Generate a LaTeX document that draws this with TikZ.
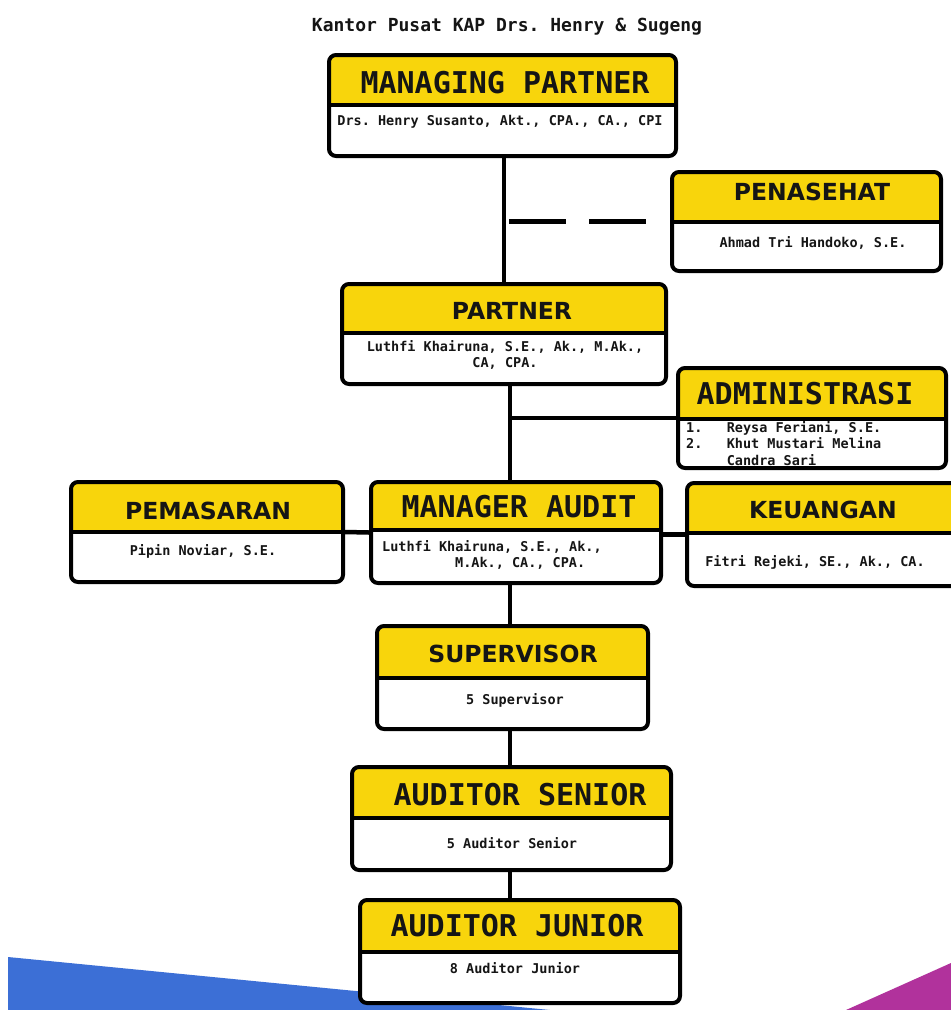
\documentclass[tikz,border=0pt]{standalone}
\usepackage{fontspec}
\newfontfamily\dvs{DejaVu Sans}
\newfontfamily\dvm{DejaVu Sans Mono}
\definecolor{hdr}{HTML}{F8D50C}
\definecolor{ink}{HTML}{151515}
\definecolor{bandblue}{HTML}{3C6FD6}
\definecolor{bandpurple}{HTML}{B1329C}
\frenchspacing
\tikzset{
  orgbox/.style={draw=black, line width=4pt, rounded corners=7pt, fill=white, inner sep=0pt,
    path picture={
      \fill[hdr] (path picture bounding box.north west) rectangle ([yshift=-#1pt]path picture bounding box.north east);
      \draw[line width=4pt] ([yshift=-#1pt]path picture bounding box.north west) -- ([yshift=-#1pt]path picture bounding box.north east);
    }},
  ttlS/.style={font=\dvs\bfseries\fontsize{23.5}{26}\selectfont, inner sep=0pt, text=ink},
  ttlM/.style={font=\dvm\bfseries\fontsize{30}{32}\selectfont, inner sep=0pt, text=ink},
  subt/.style={font=\frenchspacing\dvm\bfseries\fontsize{13.5}{16}\selectfont, inner sep=0pt, align=center, text=ink},
  conn/.style={line width=4.5pt, black},
}
\begin{document}
\begin{tikzpicture}[x=1pt,y=-1pt]
\useasboundingbox (0,0) rectangle (951,1010);
\fill[white] (0,0) rectangle (951,1010);
% bottom decoration bands
\fill[bandblue] (8,957) -- (550,1010) -- (8,1010) -- cycle;
\fill[bandpurple] (951,963) -- (951,1010) -- (846,1010) -- cycle;

% heading
\node[font=\frenchspacing\dvm\bfseries\fontsize{18}{20}\selectfont, text=ink, inner sep=0pt] (head) at (507,27) {Kantor Pusat KAP Drs. Henry \& Sugeng};

% boxes
\node[orgbox=50, minimum width=347pt, minimum height=101pt] (mp)  at (502.5,105.5) {};
\node[orgbox=50, minimum width=269pt, minimum height=99pt]  (pen) at (806.5,221.5) {};
\node[orgbox=49, minimum width=324pt, minimum height=100pt] (par) at (504,334) {};
\node[orgbox=51, minimum width=268pt, minimum height=100pt] (adm) at (812,418) {};
\node[orgbox=50, minimum width=272pt, minimum height=100pt] (pem) at (207,532) {};
\node[orgbox=48, minimum width=290pt, minimum height=101pt] (ma)  at (516,532.5) {};
\node[orgbox=50, minimum width=271pt, minimum height=103pt] (keu) at (822.5,534.5) {};
\node[orgbox=52, minimum width=271pt, minimum height=103pt] (sup) at (512.5,677.5) {};
\node[orgbox=51, minimum width=319pt, minimum height=103pt] (sen) at (511.5,818.5) {};
\node[orgbox=52, minimum width=320pt, minimum height=103pt] (jun) at (520,951.5) {};

% titles
\node[ttlM] (mp-t)  at (505,83)  {MANAGING PARTNER};
\node[ttlS] (pen-t) at (812,192) {PENASEHAT};
\node[ttlS] (par-t) at (512,311) {PARTNER};
\node[ttlM] (adm-t) at (805,394) {ADMINISTRASI};
\node[ttlS] (pem-t) at (208,511) {PEMASARAN};
\node[ttlM] (ma-t)  at (519,507) {MANAGER AUDIT};
\node[ttlS] (keu-t) at (823,510) {KEUANGAN};
\node[ttlS] (sup-t) at (513,654) {SUPERVISOR};
\node[ttlM] (sen-t) at (520,795) {AUDITOR SENIOR};
\node[ttlM] (jun-t) at (517,926) {AUDITOR JUNIOR};

% sub texts
\node[subt] (mp-s)  at (500,122) {Drs. Henry Susanto, Akt., CPA., CA., CPI};
\node[subt] (pen-s) at (813,243) {Ahmad Tri Handoko, S.E.};
\node[subt] (par-s) at (505,355) {Luthfi Khairuna, S.E., Ak., M.Ak.,\\CA, CPA.};
\node[subt, align=left, anchor=north west, font=\frenchspacing\dvm\bfseries\fontsize{13.5}{16.5}\selectfont] (adm-s) at (686,421)
  {1.\ \ \ Reysa Feriani, S.E.\\2.\ \ \ Khut Mustari Melina\\\ \ \ \ \ Candra Sari};
\node[subt] (pem-s) at (203,551) {Pipin Noviar, S.E.};
\node[subt, align=left, anchor=north west] (ma-s) at (382,540) {Luthfi Khairuna, S.E., Ak.,\\\hspace*{73pt}M.Ak., CA., CPA.};
\node[subt] (keu-s) at (815,562) {Fitri Rejeki, SE., Ak., CA.};
\node[subt] (sup-s) at (515,700) {5 Supervisor};
\node[subt] (sen-s) at (512,843) {5 Auditor Senior};
\node[subt] (jun-s) at (515,968) {8 Auditor Junior};

% connectors
\coordinate (tx) at (510,0);
\draw[conn] (par.north) -- (par.north |- mp.south);
\draw[conn, dash pattern=on 57pt off 23pt, shorten >=14pt] ([xshift=5pt]par.north |- pen.west) -- (pen.west);
\draw[conn] (par.south -| tx) -- (ma.north -| tx);
\draw[conn] (adm.west -| tx) -- (adm.west);
\draw[conn] (pem.east) -- (ma.west);
\draw[conn] (ma.east |- keu.west) -- (keu.west);
\draw[conn] (ma.south -| tx) -- (sup.north -| tx);
\draw[conn] (sup.south -| tx) -- (sen.north -| tx);
\draw[conn] (sen.south -| tx) -- (jun.north -| tx);
\end{tikzpicture}
\end{document}
